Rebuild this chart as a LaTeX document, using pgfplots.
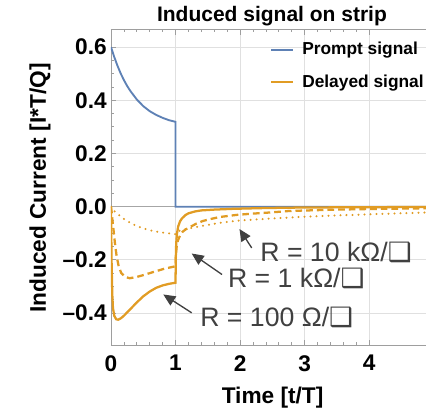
\documentclass[border=0pt]{standalone}
\usepackage{fontspec}
\setmainfont{Liberation Sans}
\newfontfamily\symfont{DejaVu Sans}
\usepackage{pgfplots}
\pgfplotsset{compat=1.18}
\usetikzlibrary{arrows.meta}

\definecolor{mmblue}{rgb}{0.368417,0.506779,0.709798}
\definecolor{mmorange}{rgb}{0.880722,0.611041,0.142051}
\definecolor{framegray}{gray}{0.62}
\definecolor{gridgray}{gray}{0.88}
\definecolor{annot}{gray}{0.25}
\newcommand{\sq}{{\symfont ❑}}
\newcommand{\labfont}{\bfseries\fontsize{17}{20}\selectfont}

\begin{document}
\begin{tikzpicture}
\begin{axis}[
    scale only axis,
    width=236.25pt, height=236.8pt,
    xmin=0, xmax=4.88, ymin=-0.52, ymax=0.667,
    axis x line*=box, axis y line*=left,
    axis line style={framegray, line width=0.7pt, -},
    tick style={framegray, line width=0.6pt},
    tick align=inside,
    major tick length=4pt, minor tick length=2.4pt,
    xtick={0,1,2,3,4}, xticklabels={0,1,2,3,4},
    ytick={-0.4,-0.2,0,0.2,0.4,0.6},
    yticklabels={–0.4,–0.2,0.0,0.2,0.4,0.6},
    minor x tick num=4, minor y tick num=3,
    xticklabel style={font=\labfont, inner sep=0pt, yshift=-7.5pt},
    yticklabel style={font=\labfont, inner sep=0pt, xshift=-3pt},
    grid=major,
    major grid style={gridgray, line width=0.7pt},
    extra y ticks={0}, extra y tick labels={},
    extra y tick style={major grid style={gray!70, line width=0.9pt}, major tick length=0pt},
    title={Induced signal on strip},
    every axis title shift=0pt,
    title style={at={(axis description cs:0.511,1.024)}, anchor=base, inner sep=0pt,
        font=\bfseries\fontsize{15.75}{18}\selectfont},
    xlabel={Time [t/T]},
    xlabel style={at={(axis description cs:0.513,0)}, anchor=north, inner sep=0pt, yshift=-31pt,
        font=\labfont},
    ylabel={Induced Current [I*T/Q]},
    ylabel style={at={(axis description cs:-0.225,0.497)}, anchor=center, inner sep=0pt,
        font=\labfont},
    legend style={at={(0.505,0.968)}, anchor=north west, draw=none, fill=none,
        font=\bfseries\fontsize{13}{15}\selectfont, row sep=9.5pt, inner sep=0pt},
    legend cell align=left,
    legend image code/.code={\draw[#1] (0pt,0pt) -- (16.5pt,0pt); \path (20.25pt,0pt);},
]
\coordinate (sw) at (rel axis cs:0,0);

% prompt signal
\addplot[mmblue, line width=1.4pt] coordinates {
(0,0.600)(0.05,0.563)(0.1,0.530)(0.15,0.501)(0.2,0.476)(0.25,0.454)(0.3,0.435)
(0.4,0.403)(0.5,0.378)(0.6,0.359)(0.7,0.345)(0.8,0.334)(0.9,0.325)(1.0,0.319)
(1.0,0)(4.88,0)};
\addlegendentry{Prompt signal}

% delayed signal, R = 100
\addplot[mmorange, line width=1.7pt] coordinates {
(0,0)(0.005,-0.12)(0.01,-0.22)(0.02,-0.33)(0.03,-0.38)(0.05,-0.41)(0.08,-0.423)
(0.11,-0.425)(0.15,-0.42)(0.2,-0.41)(0.3,-0.385)(0.4,-0.36)(0.5,-0.337)(0.6,-0.319)
(0.7,-0.305)(0.8,-0.296)(0.9,-0.29)(1.0,-0.286)(1.003,-0.2)(1.01,-0.14)(1.02,-0.105)
(1.04,-0.075)(1.07,-0.055)(1.1,-0.044)(1.15,-0.032)(1.2,-0.025)(1.3,-0.018)(1.4,-0.014)
(1.6,-0.011)(1.9,-0.008)(2.4,-0.005)(3,-0.003)(4,-0.002)(4.88,-0.001)};
\addlegendentry{Delayed signal}

% R = 1k
\addplot[mmorange, line width=1.7pt, dash pattern=on 5pt off 3pt, forget plot] coordinates {
(0,0)(0.01,-0.02)(0.02,-0.045)(0.036,-0.08)(0.06,-0.135)(0.087,-0.186)(0.12,-0.225)
(0.16,-0.25)(0.22,-0.264)(0.29,-0.269)(0.4,-0.264)(0.52,-0.256)(0.65,-0.246)(0.83,-0.233)
(1.0,-0.224)(1.005,-0.19)(1.015,-0.155)(1.035,-0.128)(1.07,-0.108)(1.11,-0.094)(1.16,-0.085)
(1.22,-0.077)(1.32,-0.064)(1.42,-0.054)(1.55,-0.046)(1.68,-0.039)(1.94,-0.031)(2.2,-0.026)
(2.45,-0.022)(2.77,-0.016)(3.5,-0.011)(4.2,-0.008)(4.88,-0.006)};

% R = 10k
\addplot[mmorange, line width=1.7pt, line cap=round, dash pattern=on 0pt off 4.5pt, forget plot] coordinates {
(0,0)(0.03,-0.012)(0.11,-0.029)(0.2,-0.046)(0.32,-0.064)(0.42,-0.075)(0.52,-0.083)
(0.63,-0.09)(0.73,-0.095)(0.85,-0.099)(0.96,-0.102)(1.0,-0.103)(1.01,-0.097)(1.04,-0.092)
(1.11,-0.087)(1.2,-0.082)(1.4,-0.073)(1.68,-0.061)(1.94,-0.053)(2.45,-0.045)(2.9,-0.039)
(3.5,-0.033)(4.2,-0.027)(4.88,-0.022)};

% annotations
\node[anchor=base west, inner sep=0pt, text=annot, font=\fontsize{20}{23}\selectfont]
    at (axis cs:2.31,-0.205) {R = 10 kΩ/\sq};
\node[anchor=base west, inner sep=0pt, text=annot, font=\fontsize{20}{23}\selectfont]
    at (axis cs:1.81,-0.305) {R = 1 kΩ/\sq};
\node[anchor=base west, inner sep=0pt, text=annot, font=\fontsize{20}{23}\selectfont]
    at (axis cs:1.38,-0.450) {R = 100 Ω/\sq};
\draw[annot, line width=1pt, -{Triangle[length=9pt,width=8pt]}]
    (axis cs:2.18,-0.155) -- (axis cs:1.99,-0.084);
\draw[annot, line width=1pt, -{Triangle[length=9pt,width=8pt]}]
    (axis cs:1.72,-0.255) -- (axis cs:1.25,-0.176);
\draw[annot, line width=1pt, -{Triangle[length=9pt,width=8pt]}]
    (axis cs:1.25,-0.399) -- (axis cs:0.81,-0.330);
\end{axis}
\pgfresetboundingbox
\path (sw) ++(-83.25pt,-49.5pt) rectangle ++(319.5pt,308.25pt);
\end{tikzpicture}
\end{document}
